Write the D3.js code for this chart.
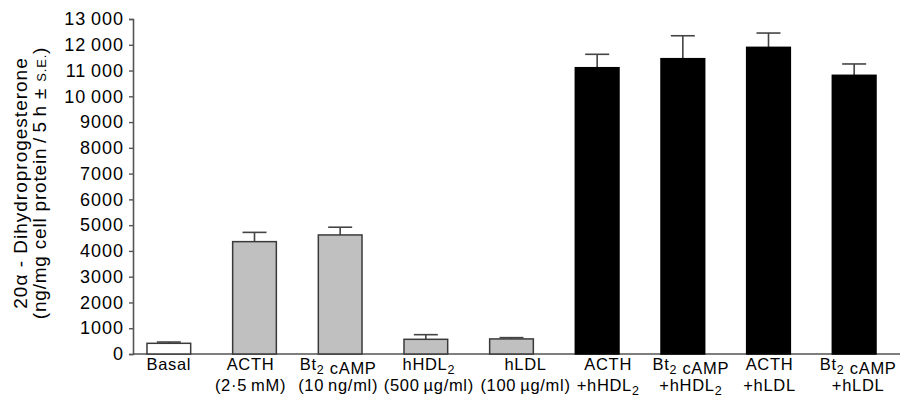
<!DOCTYPE html>
<html>
<head>
<meta charset="utf-8">
<script src="https://cdn.jsdelivr.net/npm/d3@7"></script>
<style>
  body { margin: 0; background: #fff; }
  text { font-family: "Liberation Sans", Arial, Helvetica, sans-serif; fill: #000; }
</style>
</head>
<body>
<svg id="chart" width="900" height="403"></svg>
<script>
// labels use "_" to mark a subscript digit
const labelTop = ["Basal", "ACTH", "Bt_2 cAMP", "hHDL_2", "hLDL", "ACTH", "Bt_2 cAMP", "ACTH", "Bt_2 cAMP"];
const labelBottom = ["", "(2·5\u2009mM)", "(10\u2009ng/ml)", "(500\u2009µg/ml)", "(100\u2009µg/ml)", "+hHDL_2", "+hHDL_2", "+hLDL", "+hLDL"];
const values = [415, 4360, 4620, 570, 585, 11110, 11460, 11900, 10815];
const errors = [50, 360, 300, 180, 50, 520, 890, 555, 440];
const groups = ["basal", "single", "single", "single", "single", "combo", "combo", "combo", "combo"];
const yTicks = [0, 1000, 2000, 3000, 4000, 5000, 6000, 7000, 8000, 9000, 10000, 11000, 12000, 13000];

const fillFor = { basal: "#ffffff", single: "#c0c0c0", combo: "#000000" };
// the original labels sit a little off their bars
const labelNudge = [0, -4, -2, 3, 14, 11, 8, 1, 4];

const svg = d3.select("#chart");
const axisX0 = 133, axisX1 = 900, baseY = 354, topY = 19;

const x = d3.scaleBand()
    .domain(d3.range(values.length))
    .range([126, 897])
    .paddingInner(0.49)
    .paddingOuter(0.245);

const y = d3.scaleLinear()
    .domain([0, 13000])
    .range([baseY, topY]);

const fmt = d => d >= 10000 ? Math.floor(d / 1000) + "\u2009" + "000" : String(d);

// y axis
const yAxis = svg.append("g")
    .attr("transform", `translate(${axisX0},0)`)
    .call(d3.axisLeft(y).tickValues(yTicks).tickSize(4).tickPadding(5).tickFormat(fmt));
yAxis.select(".domain").attr("stroke", "#555").attr("stroke-width", 1.6);
yAxis.selectAll(".tick line").attr("stroke", "#555").attr("stroke-width", 1.4);
yAxis.selectAll(".tick text")
    .style("font-size", "18px")
    .style("letter-spacing", "1px")
    .style("font-family", "'Liberation Sans', Arial, sans-serif")
    .attr("fill", "#000");

// x axis line
svg.append("line")
    .attr("x1", axisX0).attr("x2", axisX1)
    .attr("y1", baseY).attr("y2", baseY)
    .attr("stroke", "#555").attr("stroke-width", 1.6);

// error bars (drawn first so bars sit on top)
const err = svg.append("g").attr("stroke", "#444").attr("stroke-width", 1.6);
values.forEach((v, i) => {
    const cx = x(i) + x.bandwidth() / 2;
    err.append("line")
        .attr("x1", cx).attr("x2", cx)
        .attr("y1", y(v)).attr("y2", y(v + errors[i]));
    err.append("line")
        .attr("x1", cx - 12).attr("x2", cx + 12)
        .attr("y1", y(v + errors[i])).attr("y2", y(v + errors[i]));
});

// bars
svg.append("g")
    .selectAll("rect")
    .data(values)
    .join("rect")
    .attr("x", (d, i) => x(i))
    .attr("y", d => y(d))
    .attr("width", x.bandwidth())
    .attr("height", d => baseY - y(d))
    .attr("fill", (d, i) => fillFor[groups[i]])
    .attr("stroke", (d, i) => groups[i] === "combo" ? "#000" : "#3a3a3a")
    .attr("stroke-width", 1.5);

// write a label with "_n" subscripts into a text element
const writeLabel = (sel, str) => {
    const parts = str.split(/_(\d)/);
    parts.forEach((p, k) => {
        if (p === "") return;
        if (k % 2 === 1) {
            sel.append("tspan").attr("dy", 4).style("font-size", "12.5px").text(p);
            sel.append("tspan").attr("dy", -4).text("");
        } else {
            sel.append("tspan").text(p);
        }
    });
};

const labels = svg.append("g").style("font-size", "16.5px").style("letter-spacing", "0.7px");
values.forEach((v, i) => {
    const cx = x(i) + x.bandwidth() / 2 + labelNudge[i];
    const t1 = labels.append("text").attr("x", cx).attr("y", 370).attr("text-anchor", "middle");
    writeLabel(t1, labelTop[i]);
    if (labelBottom[i]) {
        const t2 = labels.append("text").attr("x", cx).attr("y", 391).attr("text-anchor", "middle");
        writeLabel(t2, labelBottom[i]);
    }
});

// y axis title
const yTitle = svg.append("g").attr("transform", "translate(0,183)").style("letter-spacing", "1px");
yTitle.append("text")
    .attr("transform", "translate(27,0) rotate(-90)")
    .attr("text-anchor", "middle")
    .style("font-size", "19px")
    .text("20α - Dihydroprogesterone");
const t2 = yTitle.append("text")
    .attr("transform", "translate(46,0) rotate(-90)")
    .attr("text-anchor", "middle")
    .style("font-size", "19px")
    .style("letter-spacing", "0.8px");
t2.append("tspan").text("(ng/mg cell protein\u2009/\u20095\u2009h ± ");
t2.append("tspan").style("font-size", "13px").text("S.E.");
t2.append("tspan").text(")");
</script>
</body>
</html>
